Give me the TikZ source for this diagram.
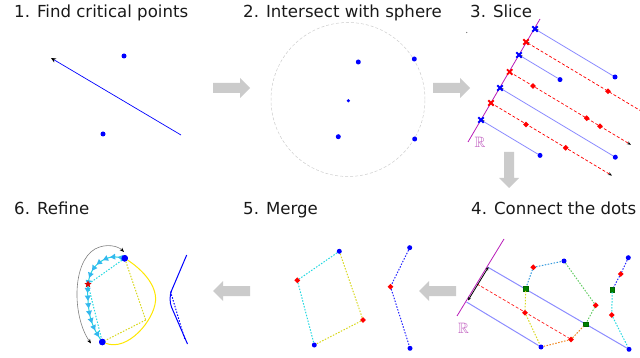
\documentclass[tikz,border=0pt]{standalone}
\usepackage{fontspec}
\usepackage{amssymb}
\setmainfont{DejaVu Sans}
\usetikzlibrary{arrows.meta,shapes.geometric,shapes.misc,decorations.markings}
\definecolor{mag}{HTML}{B81CB8}
\definecolor{lmag}{HTML}{C060C0}
\definecolor{lblue}{HTML}{8C8CFF}
\definecolor{garr}{HTML}{CBCBCB}
\definecolor{sky}{HTML}{3399DD}
\definecolor{grn}{HTML}{66CC66}
\definecolor{yel}{HTML}{D8D820}
\definecolor{org}{HTML}{EE8822}
\definecolor{cyn}{HTML}{22D8E0}
\definecolor{tri}{HTML}{33B8EE}
\begin{document}
\begin{tikzpicture}[x=1pt,y=-1pt,
  bdot/.style={circle,fill=blue,inner sep=0pt,minimum size=5pt},
  sbdot/.style={circle,fill=blue,inner sep=0pt,minimum size=3.5pt},
  bigdot/.style={circle,fill=blue,inner sep=0pt,minimum size=6.5pt},
  rdia/.style={diamond,fill=red,inner sep=0pt,minimum size=6pt},
  gsq/.style={rectangle,fill=green!50!black,draw=black!60!green,inner sep=0pt,minimum size=4.5pt},
  bx/.style={cross out,draw=blue,line width=1.8pt,inner sep=0pt,minimum size=3.5pt},
  rx/.style={cross out,draw=red,line width=1.8pt,inner sep=0pt,minimum size=3.5pt},
  ptitle/.style={anchor=base west,inner sep=0pt,font=\fontsize{16.6}{20}\selectfont,text=black!90},
  rlabel/.style={text=lmag,font=\fontsize{15}{15}\selectfont,inner sep=0pt},
  garrow/.style={fill=garr},
  dotl/.style={line width=1pt,dash pattern=on 1.5pt off 1.5pt},
  tip/.style={-{Stealth[black,length=4pt,width=3pt]}},
  rtip/.style={{Stealth[black,length=3.5pt,width=2.5pt]}-},
]
\useasboundingbox (0,0) rectangle (640,358);

% titles
\node[ptitle] (t1) at (14,17.5) {1. Find critical points};
\node[ptitle] (t2) at (243,17.5) {2. Intersect with sphere};
\node[ptitle] (t3) at (470,17.5) {3. Slice};
\node[ptitle] (t4) at (471,215) {4. Connect the dots};
\node[ptitle] (t5) at (243,215) {5. Merge};
\node[ptitle] (t6) at (14,215) {6. Refine};

% gray block arrows
\fill[garrow] (213,83) -- (240,83) -- (240,78) -- (250,88) -- (240,98) -- (240,93) -- (213,93) -- cycle;
\fill[garrow] (433,83) -- (460,83) -- (460,78) -- (470,88) -- (460,98) -- (460,93) -- (433,93) -- cycle;
\fill[garrow] (504,152) -- (504,178) -- (499,178) -- (509,188) -- (519,178) -- (514,178) -- (514,152) -- cycle;
\fill[garrow] (456,286) -- (429,286) -- (429,281) -- (419,291) -- (429,301) -- (429,296) -- (456,296) -- cycle;
\fill[garrow] (250,286) -- (223,286) -- (223,281) -- (213,291) -- (223,301) -- (223,296) -- (250,296) -- cycle;

% ---------- panel 1
\node[bdot] (p1a) at (124,56) {};
\node[bdot] (p1b) at (103,134) {};
\coordinate (p1s) at (181,135);
\coordinate (p1e) at (51,58);
\draw[blue,line width=0.7pt,-{Stealth[black,length=5pt,width=4.5pt]}] (p1s) -- (p1e);

% ---------- panel 2
\node[circle,draw=black!20,densely dashed,line width=0.5pt,minimum size=154pt,inner sep=0pt] (sph) at (348,99.5) {};
\node[bdot] (s1) at (358.3,62) {};
\node[bdot] (s2) at (414.3,59) {};
\node[sbdot] (s3) at (348.3,100.7) {};
\node[bdot] (s4) at (338.3,136.7) {};
\node[bdot] (s5) at (414.7,139) {};

% ---------- panel 3
\coordinate (r3a) at (468,142);
\coordinate (r3b) at (540,19);
\draw[mag,line width=0.8pt] (r3a) -- (r3b);
\node[rlabel] (R3) at (480,142.5) {$\mathbb{R}$};
\fill[black!60] (466.7,32.5) circle (0.7pt);
% slice lines
\coordinate (e2) at (640,110.4);
\coordinate (e4) at (631,144.8);
\coordinate (e6) at (612,175.6);
\node[bdot] (d1) at (615,77) {};
\node[bdot] (d3) at (560,79.6) {};
\node[bdot] (d5) at (615.3,157.2) {};
\node[bdot] (d7) at (540,155.4) {};
\draw[lblue,line width=0.8pt,rtip] (535,29) coordinate (m1) -- (d1);
\draw[red,line width=0.7pt,densely dashed,rtip] (526,42) coordinate (m2) -- (e2);
\draw[lblue,line width=0.8pt,rtip] (519,55) coordinate (m3) -- (d3);
\draw[red,line width=0.7pt,densely dashed,rtip,tip] (509.7,72) coordinate (m4) -- (e4);
\draw[lblue,line width=0.8pt,rtip] (500,88) coordinate (m5) -- (d5);
\draw[red,line width=0.7pt,densely dashed,rtip,tip] (491,103) coordinate (m6) -- (e6);
\draw[lblue,line width=0.8pt,rtip] (481,120) coordinate (m7) -- (d7);
\node[bx] (x1) at (m1) {};
\node[rx] (x2) at (m2) {};
\node[bx] (x3) at (m3) {};
\node[rx] (x4) at (m4) {};
\node[bx] (x5) at (m5) {};
\node[rx] (x6) at (m6) {};
\node[bx] (x7) at (m7) {};
\node[rdia] (c21) at (608,91.2) {};
\node[rdia] (c41) at (533,86) {};
\node[rdia] (c42) at (586.7,118.2) {};
\node[rdia] (c43) at (600,126.2) {};
\node[rdia] (c61) at (526,124.5) {};
\node[rdia] (c62) at (565.7,147.8) {};

% ---------- panel 4
\coordinate (r4a) at (457,316);
\coordinate (r4b) at (504,239);
\coordinate (q1) at (487.5,267);
\coordinate (q2) at (477,284);
\coordinate (q3) at (466.5,302);
\node[bdot] (B) at (564,261) {};
\node[bdot] (E) at (541,347) {};
\node[bdot] (I) at (628.3,257.7) {};
\node[bdot] (M) at (629,349.3) {};
\draw[lblue,line width=1pt] (q1) -- (M);
\draw[red!90,line width=0.7pt,densely dashed] (q2) -- (571,339.3);
\draw[lblue,line width=1pt] (q3) -- (E);
\draw[mag,line width=0.8pt] (r4a) -- (r4b);
\draw[black,line width=0.8pt,{Stealth[length=3.5pt,width=3pt]}-{Stealth[length=3.5pt,width=3pt]}] (468,300.5) -- (488.5,267);
\node[rlabel] (R4) at (463.5,328) {$\mathbb{R}$};
\node[rdia] (A) at (533.3,267.3) {};
\node[gsq] (C) at (525.7,288.5) {};
\node[rdia] (D) at (525,312.7) {};
\node[rdia] (F) at (571,339.5) {};
\node[gsq] (G) at (585.7,324) {};
\node[rdia] (H) at (595.7,305.3) {};
\node[rdia] (J) at (620.7,274) {};
\node[gsq] (K) at (612.3,289.7) {};
\node[rdia] (L) at (611.7,315) {};
\draw[sky,dotl] (A) -- (B);
\draw[sky,dotl] (A) -- (C);
\draw[yel,dotl] (C) -- (D);
\draw[yel,dotl] (D) -- (E);
\draw[org,dotl] (E) -- (F);
\draw[org,dotl] (F) -- (G);
\draw[grn,dotl] (G) -- (H);
\draw[grn,dotl] (H) -- (B);
\draw[blue!85,dotl] (I) -- (J);
\draw[blue!85,dotl] (J) -- (K);
\draw[cyn,dotl] (K) -- (L);
\draw[cyn,dotl] (L) -- (M);

% ---------- panel 5
\node[bdot] (P) at (339.3,251.3) {};
\node[rdia] (Q) at (297.3,280.3) {};
\node[rdia] (Rr) at (363,320) {};
\node[bdot] (S) at (314.3,345) {};
\node[bdot] (T) at (409.7,247.7) {};
\node[rdia] (U) at (390.5,286.7) {};
\node[bdot] (V) at (410,348.3) {};
\draw[cyn,dotl] (P) -- (Q);
\draw[cyn,dotl] (Q) -- (S);
\draw[yel,dotl] (P) -- (Rr);
\draw[yel,dotl] (Rr) -- (S);
\draw[blue!85,dotl] (T) -- (U);
\draw[blue!85,dotl] (U) -- (V);

% ---------- panel 6
\node[bigdot] (W1) at (124.7,258.3) {};
\node[bigdot] (W2) at (102.3,342) {};
\coordinate (W3) at (145.7,320);
\draw[yellow!90!orange,line width=1pt] (W1) .. controls (140,268) and (157,284) .. (155.5,301) .. controls (154,320) and (128,352) .. (W2);
\draw[gray,line width=0.6pt,{Stealth[black,length=4.5pt,width=3.5pt]}-{Stealth[black,length=4.5pt,width=3.5pt]}] (91,343.5) .. controls (72,316) and (72,262) .. (95,249) .. controls (106,243) and (118,246) .. (124,252);
\draw[cyn,line width=1pt,
  postaction={decorate,decoration={markings,
    mark=between positions 0.04 and 0.97 step 0.068 with {\fill[tri] (2.6pt,0) -- (-2.6pt,3pt) -- (-2.6pt,-3pt) -- cycle;}}}]
  plot[smooth,tension=0.6] coordinates {(124.7,258.3) (112,257) (100,262) (92,271) (88,284) (88,300) (90,316) (95,330) (102.3,342)};
\node[star,star points=5,star point ratio=2.2,fill=red!85!black,inner sep=0pt,minimum size=7.5pt] (st) at (88,284.3) {};
\draw[cyn,dotl] (W1) -- (st);
\draw[cyn,dotl] (st) -- (W2);
\draw[yel,dotl] (W1) -- (W3);
\draw[yel,dotl] (W3) -- (W2);
\node[bigdot] at (W1) {};
\node[bigdot] at (W2) {};
\draw[blue,line width=1pt,rounded corners=9pt] (186.7,255) -- (168,299) -- (187.5,344);
\draw[blue,dotl] (170.5,291.5) -- (185,340);
\end{tikzpicture}
\end{document}
